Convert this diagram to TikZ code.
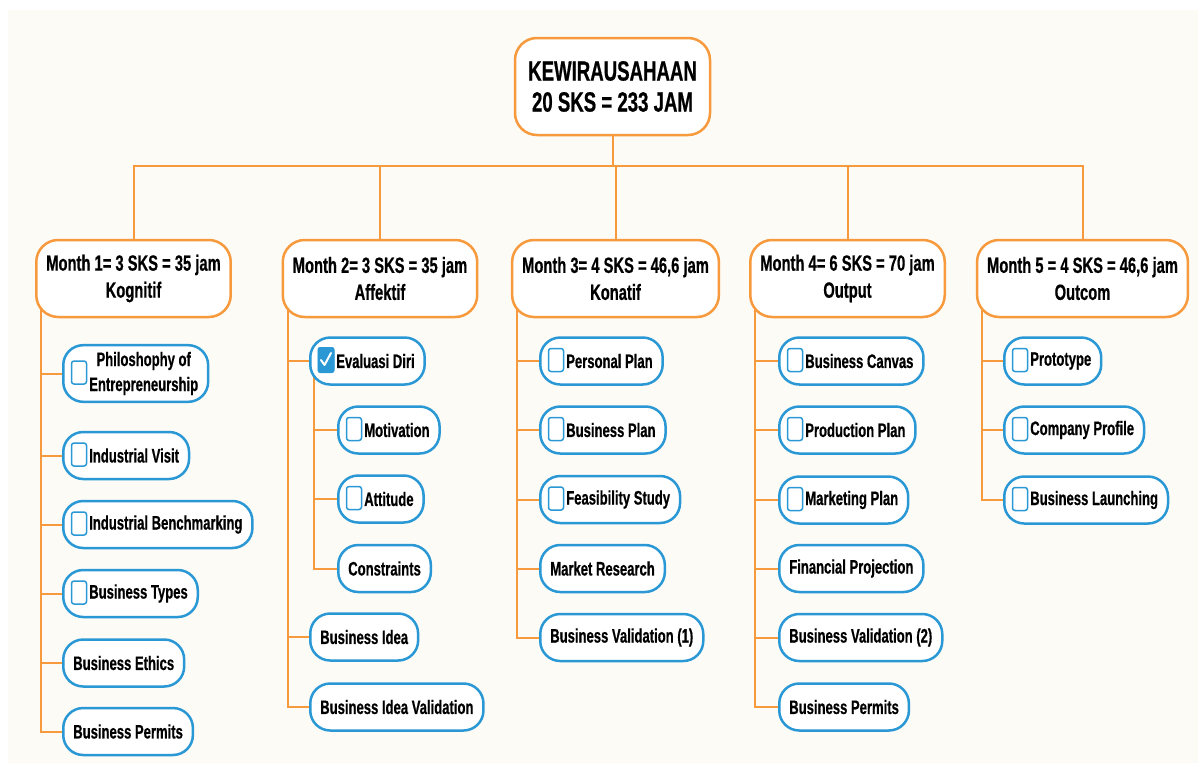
\documentclass[tikz,border=0pt]{standalone}
\usepackage{fontspec}
\newfontfamily\narrowsf[FakeStretch=0.67, BoldFeatures={FakeBold=0.6}]{Liberation Sans}
\usetikzlibrary{backgrounds}

\definecolor{kworange}{HTML}{F79A3E}
\definecolor{kwblue}{HTML}{2A98D5}
\definecolor{kwcream}{HTML}{FCFBF6}

\tikzset{
  root/.style={draw=kworange, line width=2.5pt, fill=white, rounded corners=22pt,
    align=center, minimum width=195pt, minimum height=97pt,
    font=\narrowsf\bfseries\fontsize{27.8}{31}\selectfont},
  month/.style={draw=kworange, line width=2.5pt, fill=white, rounded corners=22pt,
    align=center, inner xsep=10pt, minimum height=77pt,
    font=\narrowsf\bfseries\fontsize{22}{27}\selectfont},
  leaf/.style={draw=kwblue, line width=2.5pt, fill=white, rounded corners=20pt,
    anchor=west, inner xsep=10pt, minimum height=47pt,
    font=\narrowsf\bfseries\fontsize{19.5}{22}\selectfont},
  cbox/.style={draw=kwblue, line width=1.5pt, fill=white, rounded corners=2.5pt,
    minimum width=15pt, minimum height=23pt, inner sep=0pt},
  link/.style={draw=kworange, line width=2pt}
}
\newcommand{\tb}{\hspace*{16pt}}

\begin{document}
\begin{tikzpicture}[x=1pt, y=-1pt]
  \useasboundingbox (0,0) rectangle (1198,763);

  \node[root] (root) at (612.5,86.5) {KEWIRAUSAHAAN\\20 SKS = 233 JAM};

  \node[month] (m1) at (133.5,278.5) {Month 1= 3 SKS = 35 jam\\Kognitif};
  \node[month] (m2) at (380,278.5) {Month 2= 3 SKS = 35 jam\\Affektif};
  \node[month] (m3) at (615.5,278.5) {Month 3= 4 SKS = 46,6 jam\\Konatif};
  \node[month] (m4) at (847.5,278.5) {Month 4= 6 SKS = 70 jam\\Output};
  \node[month] (m5) at (1082.5,278.5) {Month 5 = 4 SKS = 46,6 jam\\Outcom};

  % month 1
  \node[leaf] (philo) at (62,373.5) {\tb{\fontsize{19.5}{25}\selectfont
    \begin{tabular}{@{}c@{}}Philoshophy of\\Entrepreneurship\end{tabular}}};
  \node[leaf] (visit) at (62,455.5) {\tb Industrial Visit};
  \node[leaf] (bench) at (62,524.5) {\tb Industrial Benchmarking};
  \node[leaf] (types) at (62,593.5) {\tb Business Types};
  \node[leaf] (ethics) at (62,663) {Business Ethics};
  \node[leaf] (permits1) at (62,731.5) {Business Permits};

  % month 2
  \node[leaf] (evaluasi) at (309,361) {\tb Evaluasi Diri};
  \node[leaf] (motiv) at (337,430) {\tb Motivation};
  \node[leaf] (attitude) at (337,499) {\tb Attitude};
  \node[leaf] (constr) at (337,568.5) {Constraints};
  \node[leaf] (idea) at (309,637) {Business Idea};
  \node[leaf] (ideaval) at (309,707) {Business Idea Validation};

  % month 3
  \node[leaf] (personal) at (539,361) {\tb Personal Plan};
  \node[leaf] (bplan) at (539,430) {\tb Business Plan};
  \node[leaf] (feas) at (539,499.5) {\tb Feasibility Study};
  \node[leaf] (market) at (539,568.5) {Market Research};
  \node[leaf] (valid1) at (539,637.5) {Business Validation (1)};

  % month 4
  \node[leaf] (canvas) at (778,361) {\tb Business Canvas};
  \node[leaf] (prod) at (778,430) {\tb Production Plan};
  \node[leaf] (mkt) at (778,500) {\tb Marketing Plan};
  \node[leaf] (fin) at (778,568.5) {Financial Projection};
  \node[leaf] (valid2) at (778,637.5) {Business Validation (2)};
  \node[leaf] (permits2) at (778,707) {Business Permits};

  % month 5
  \node[leaf] (proto) at (1003,361) {\tb Prototype};
  \node[leaf] (profile) at (1003,430) {\tb Company Profile};
  \node[leaf] (launch) at (1003,500) {\tb Business Launching};

  % check boxes
  \foreach \n in {philo,visit,bench,types,evaluasi,motiv,attitude,personal,bplan,
                  feas,canvas,prod,mkt,proto,profile,launch}
    \node[cbox] (\n-box) at ([xshift=17pt,yshift=1pt]\n.west) {};
  \fill[kwblue, rounded corners=2.5pt] ([shift={(-8.5,-13)}]evaluasi-box.center)
    rectangle ([shift={(8.5,13)}]evaluasi-box.center);
  \draw[white, line width=2pt, line cap=round, line join=round]
    ([shift={(-5,0)}]evaluasi-box.center) -- ++(3.5,5) -- ++(6.5,-12);

  \begin{scope}[on background layer]
    \fill[kwcream] (8,10) rectangle (1198,763);
    \foreach \m in {m1,m2,m3,m4,m5}
      \draw[link] (root.south) -- ++(0,30) -| (\m.north);
    \foreach \m/\c in {m1/philo,m1/visit,m1/bench,m1/types,m1/ethics,m1/permits1,
                       m2/evaluasi,m2/idea,m2/ideaval,
                       m3/personal,m3/bplan,m3/feas,m3/market,m3/valid1,
                       m4/canvas,m4/prod,m4/mkt,m4/fin,m4/valid2,m4/permits2,
                       m5/proto,m5/profile,m5/launch}
      \draw[link] ([xshift=6pt]\m.west) |- (\c.west);
    \foreach \c in {motiv,attitude,constr}
      \draw[link] ([xshift=5pt]evaluasi.west) |- (\c.west);
  \end{scope}
\end{tikzpicture}
\end{document}
